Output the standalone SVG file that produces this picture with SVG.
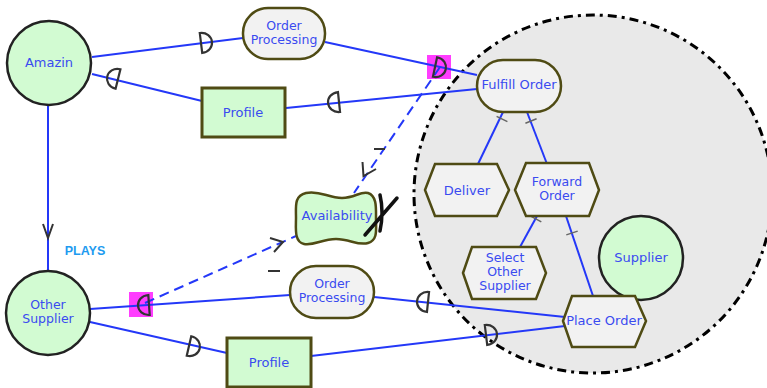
<svg xmlns="http://www.w3.org/2000/svg" xmlns:xlink="http://www.w3.org/1999/xlink" width="767" height="388" viewBox="0 0 767 388">
  <style>
    .lbl { font-family: "DejaVu Sans", "Liberation Sans", sans-serif; font-size: 13px; fill: #3a4bf0; text-anchor: middle; }
    .ml { font-size: 12.5px; }
    .actor { fill: #d2fbd2; stroke: #222; stroke-width: 2.5; }
    .res { fill: #d2fbd2; stroke: #4f4b14; stroke-width: 3; }
    .goal { fill: #f2f2f2; stroke: #4f4b14; stroke-width: 2.5; }
    .soft { fill: #d2fbd2; stroke: #4f4b14; stroke-width: 2.5; }
    .link { stroke: #2438f8; stroke-width: 2; fill: none; }
    .dash { stroke: #2438f8; stroke-width: 2; fill: none; stroke-dasharray: 10 6; }
    .tick { stroke: #666; stroke-width: 1.5; }
    .dep { fill: none; stroke: #333; stroke-width: 2.2; }
    .arrow { fill: none; stroke: #333; stroke-width: 2; }
    .mark { stroke: #333; stroke-width: 2; }
  </style>
  <defs>
    <path id="dep" class="dep" d="M0,-10 C7,-10 11,-5 11,0 C11,5 7,10 0,10 Z"/>
  </defs>

  <rect width="767" height="388" fill="#fff"/>

  <!-- actor boundary -->
  <g id="boundary">
    <circle cx="593" cy="194" r="179" fill="#e9e9e9" stroke="#000" stroke-width="3" stroke-dasharray="9 5 3 5"/>
  </g>

  <!-- highlight squares -->
  <g id="highlights">
    <rect x="427" y="55" width="24" height="24" fill="#ff3dff"/>
    <rect x="129" y="292" width="24" height="25" fill="#ff3dff"/>
  </g>

  <g id="connectors">
    <line class="link" x1="92" y1="57" x2="243" y2="38"/>
    <line class="link" x1="92" y1="74" x2="202" y2="101"/>
    <line class="link" x1="286" y1="108" x2="477" y2="89"/>
    <line class="link" x1="325" y1="42" x2="477" y2="75"/>
    <line class="link" x1="48" y1="105" x2="48" y2="271"/>
    <polyline class="arrow" points="43,224 48,238 53,224"/>
    <line class="link" x1="90" y1="309" x2="290" y2="295"/>
    <line class="link" x1="374" y1="297" x2="565" y2="317"/>
    <line class="link" x1="90" y1="322" x2="227" y2="353"/>
    <line class="link" x1="311" y1="356" x2="565" y2="326"/>

    <!-- decomposition links -->
    <line class="link" x1="503" y1="112" x2="478" y2="164"/>
    <line class="tick" x1="496.6" y1="116.4" x2="507.4" y2="121.6"/>
    <line class="link" x1="527" y1="112" x2="547" y2="164"/>
    <line class="tick" x1="525.4" y1="123.2" x2="536.6" y2="118.8"/>
    <line class="link" x1="537" y1="216" x2="520" y2="247"/>
    <line class="tick" x1="530.7" y1="216.1" x2="541.3" y2="221.9"/>
    <line class="link" x1="566" y1="216" x2="593" y2="296"/>
    <line class="tick" x1="566.3" y1="234.9" x2="577.7" y2="231.1"/>

    <!-- contribution links -->
    <line class="dash" x1="440" y1="67" x2="354" y2="193"/>
    <polyline class="arrow" points="362.5,162 363.5,176 376,169"/>
    <line class="mark" x1="374" y1="149" x2="385" y2="149"/>
    <line class="dash" x1="145" y1="303" x2="296" y2="236"/>
    <polyline class="arrow" points="270,238 283,242 274,252"/>
    <line class="mark" x1="268" y1="271" x2="280" y2="271"/>

    <!-- dependency marks -->
    <use xlink:href="#dep" transform="translate(201,43) rotate(-7)"/>
    <use xlink:href="#dep" transform="translate(118,79) rotate(14) scale(-1,1)"/>
    <use xlink:href="#dep" transform="translate(339,102) rotate(-6) scale(-1,1)"/>
    <use xlink:href="#dep" transform="translate(435,67) rotate(12)"/>
    <use xlink:href="#dep" transform="translate(149,305) rotate(-4) scale(-1,1)"/>
    <use xlink:href="#dep" transform="translate(428,302) rotate(6) scale(-1,1)"/>
    <use xlink:href="#dep" transform="translate(189,346) rotate(13)"/>
    <use xlink:href="#dep" transform="translate(486,335) rotate(-7)"/>

    <text x="85" y="255" font-family="Liberation Sans, Arial, sans-serif" font-size="12.5" font-weight="bold" fill="#1e9bf0" text-anchor="middle">PLAYS</text>
  </g>

  <g id="amazin">
    <circle class="actor" cx="49" cy="63" r="42"/>
    <text class="lbl" x="49" y="67">Amazin</text>
  </g>

  <g id="order-processing-1">
    <rect class="goal" x="243" y="8" width="82" height="51" rx="25"/>
    <text class="lbl ml" x="284" y="30">Order</text>
    <text class="lbl ml" x="284" y="44">Processing</text>
  </g>

  <g id="profile-1">
    <rect class="res" x="202" y="88" width="83" height="49"/>
    <text class="lbl" x="243" y="117">Profile</text>
  </g>

  <g id="fulfill-order">
    <rect class="goal" x="477" y="60" width="84" height="52" rx="26"/>
    <text class="lbl" x="519" y="89">Fulfill Order</text>
  </g>

  <g id="deliver">
    <polygon class="goal" points="425,190 435,164 497,164 509,190 497,216 435,216"/>
    <text class="lbl" x="467" y="195">Deliver</text>
  </g>

  <g id="forward-order">
    <polygon class="goal" points="515,190 526,163 589,163 599,190 589,216 526,216"/>
    <text class="lbl ml" x="557" y="186">Forward</text>
    <text class="lbl ml" x="557" y="200">Order</text>
  </g>

  <g id="select-other-supplier">
    <polygon class="goal" points="463,273 472,247 536,247 546,273 536,299 472,299"/>
    <text class="lbl ml" x="505" y="262">Select</text>
    <text class="lbl ml" x="505" y="276">Other</text>
    <text class="lbl ml" x="505" y="290">Supplier</text>
  </g>

  <g id="supplier">
    <circle class="actor" cx="641" cy="258" r="42"/>
    <text class="lbl" x="641" y="262">Supplier</text>
  </g>

  <g id="place-order">
    <polygon class="goal" points="563,321 572,296 635,296 646,321 635,347 572,347"/>
    <text class="lbl" x="604" y="325">Place Order</text>
  </g>

  <g id="availability">
    <path class="soft" d="M306,193 C320,190 328,198 342,198 C355,198 360,191 368,193 C377,196 376,208 376,218 C376,230 378,240 368,243 C358,246 350,239 336,239 C322,239 314,246 304,244 C294,242 296,228 296,218 C296,206 294,196 306,193 Z"/>
    <text class="lbl" x="337" y="220">Availability</text>
    <path d="M365,235 L397,198 M380,195 Q384,212 380,231" stroke="#111" stroke-width="3.5" fill="none" stroke-linecap="round"/>
  </g>

  <g id="other-supplier">
    <circle class="actor" cx="48" cy="313" r="42"/>
    <text class="lbl ml" x="48" y="309">Other</text>
    <text class="lbl ml" x="48" y="323">Supplier</text>
  </g>

  <g id="order-processing-2">
    <rect class="goal" x="290" y="266" width="84" height="52" rx="26"/>
    <text class="lbl ml" x="332" y="288">Order</text>
    <text class="lbl ml" x="332" y="302">Processing</text>
  </g>

  <g id="profile-2">
    <rect class="res" x="227" y="338" width="84" height="49"/>
    <text class="lbl" x="269" y="367">Profile</text>
  </g>
</svg>
